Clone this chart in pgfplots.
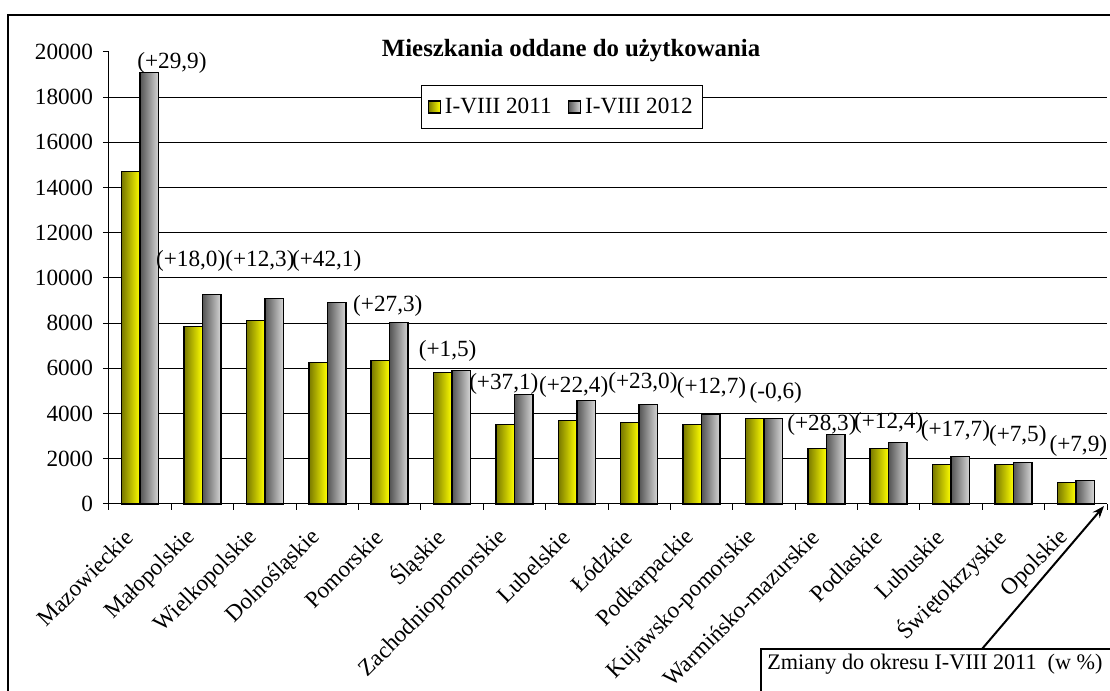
\documentclass[border=0pt]{standalone}
\usepackage{pgfplots}
\pgfplotsset{compat=1.18}
\usepackage{fontspec}
\setmainfont{Liberation Serif}
\usetikzlibrary{arrows.meta}
\definecolor{ydark}{RGB}{120,120,0}
\definecolor{ylight}{RGB}{255,255,0}
\definecolor{gdark}{RGB}{85,85,85}
\definecolor{glight}{RGB}{215,215,215}
\tikzset{
  yfill/.style={draw=black, line width=0.7pt, left color=ydark, middle color=ylight, right color=ylight},
  gfill/.style={draw=black, line width=0.7pt, left color=gdark, right color=glight},
}
\pgfplotsset{
  ybarA/.style={ybar, bar width=9.25pt, bar shift=-4.625pt, yfill, forget plot},
  gbarA/.style={ybar, bar width=9.25pt, bar shift=4.625pt, gfill, forget plot},
}
\begin{document}
\begin{tikzpicture}[font=\fontsize{11.6}{13.8}\selectfont]
\path[use as bounding box] (0,0) rectangle (555pt,345.5pt);
\clip (0,0) rectangle (555pt,345.5pt);
\draw[black, line width=0.6pt] (4pt,-10pt) -- (4pt,338pt) -- (570pt,338pt);
\begin{axis}[
  at={(54.5pt,93.5pt)}, anchor=south west,
  width=499pt, height=226pt, scale only axis,
  xmin=-0.5, xmax=15.5, ymin=0, ymax=20000,
  axis lines*=left,
  axis line style={black, line width=0.5pt},
  xtick={0,...,15},
  xticklabels={Mazowieckie,Małopolskie,Wielkopolskie,Dolnośląskie,Pomorskie,Śląskie,Zachodniopomorskie,Lubelskie,Łódzkie,Podkarpackie,Kujawsko-pomorskie,Warmińsko-mazurskie,Podlaskie,Lubuskie,Świętokrzyskie,Opolskie},
  major x tick style={draw=none},
  minor xtick={-0.5,0.5,...,15.5},
  minor tick length=3pt,
  major tick length=3pt,
  tick align=outside,
  tick style={black, line width=0.5pt},
  ytick={0,20000},
  extra y ticks={2000,4000,6000,8000,10000,12000,14000,16000,18000},
  extra y tick style={grid=major},
  grid style={black, line width=0.5pt},
  /pgf/number format/1000 sep={},
  /pgf/number format/assume math mode=true,
  scaled y ticks=false,
  yticklabel style={xshift=-1.5pt},
  xticklabel style={xshift=-3pt, yshift=-9.5pt, rotate=45, anchor=east},
  legend style={at={(0.454,0.878)}, anchor=center, legend columns=2, draw=black, fill=white,
    line width=0.5pt, inner xsep=3pt, inner ysep=4pt,
    /tikz/every even column/.append style={column sep=6pt}},
  legend image code/.code={\draw[#1] (0pt,-3pt) rectangle (6pt,3pt);},
  clip=false,
]
% I-VIII 2011
\addplot[ybarA] coordinates {(0,14700)};
\addplot[ybarA] coordinates {(1,7850)};
\addplot[ybarA] coordinates {(2,8130)};
\addplot[ybarA] coordinates {(3,6250)};
\addplot[ybarA] coordinates {(4,6340)};
\addplot[ybarA] coordinates {(5,5810)};
\addplot[ybarA] coordinates {(6,3530)};
\addplot[ybarA] coordinates {(7,3700)};
\addplot[ybarA] coordinates {(8,3610)};
\addplot[ybarA] coordinates {(9,3510)};
\addplot[ybarA] coordinates {(10,3790)};
\addplot[ybarA] coordinates {(11,2460)};
\addplot[ybarA] coordinates {(12,2460)};
\addplot[ybarA] coordinates {(13,1760)};
\addplot[ybarA] coordinates {(14,1760)};
\addplot[ybarA] coordinates {(15,960)};
% I-VIII 2012
\addplot[gbarA] coordinates {(0,19100)};
\addplot[gbarA] coordinates {(1,9280)};
\addplot[gbarA] coordinates {(2,9080)};
\addplot[gbarA] coordinates {(3,8920)};
\addplot[gbarA] coordinates {(4,8020)};
\addplot[gbarA] coordinates {(5,5900)};
\addplot[gbarA] coordinates {(6,4850)};
\addplot[gbarA] coordinates {(7,4570)};
\addplot[gbarA] coordinates {(8,4400)};
\addplot[gbarA] coordinates {(9,3950)};
\addplot[gbarA] coordinates {(10,3790)};
\addplot[gbarA] coordinates {(11,3070)};
\addplot[gbarA] coordinates {(12,2710)};
\addplot[gbarA] coordinates {(13,2090)};
\addplot[gbarA] coordinates {(14,1830)};
\addplot[gbarA] coordinates {(15,1030)};
\addlegendimage{yfill}
\addlegendentry{I-VIII 2011}
\addlegendimage{gfill}
\addlegendentry{I-VIII 2012}
\node at (axis cs:0.51,19500) {(+29,9)};
\node at (axis cs:0.81,10750) {(+18,0)};
\node at (axis cs:1.92,10750) {(+12,3)};
\node at (axis cs:2.99,10750) {(+42,1)};
\node at (axis cs:3.97,8760) {(+27,3)};
\node at (axis cs:4.93,6770) {(+1,5)};
\node at (axis cs:5.83,5310) {(+37,1)};
\node at (axis cs:6.95,5170) {(+22,4)};
\node at (axis cs:8.06,5350) {(+23,0)};
\node at (axis cs:9.16,5130) {(+12,7)};
\node at (axis cs:10.19,4910) {(-0,6)};
\node at (axis cs:10.93,3500) {(+28,3)};
\node at (axis cs:12.0,3580) {(+12,4)};
\node at (axis cs:13.07,3230) {(+17,7)};
\node at (axis cs:14.07,3010) {(+7,5)};
\node at (axis cs:15.04,2570) {(+7,9)};
\node[font=\fontsize{12.4}{14.5}\selectfont\bfseries] at (rel axis cs:0.463,1.004) {Mieszkania oddane do użytkowania};
\end{axis}
\draw[black, line width=0.6pt, fill=white] (380.5pt,-5pt) rectangle (600pt,21pt);
\node[anchor=base west, inner sep=0pt, font=\fontsize{11.1}{13}\selectfont] at (383.5pt,10.5pt) {Zmiany do okresu I-VIII 2011~~(w~\%)};
\draw[-{Stealth[length=6pt,width=4.5pt]}, line width=1pt] (491pt,21pt) -- (552pt,92.5pt);
\end{tikzpicture}
\end{document}
